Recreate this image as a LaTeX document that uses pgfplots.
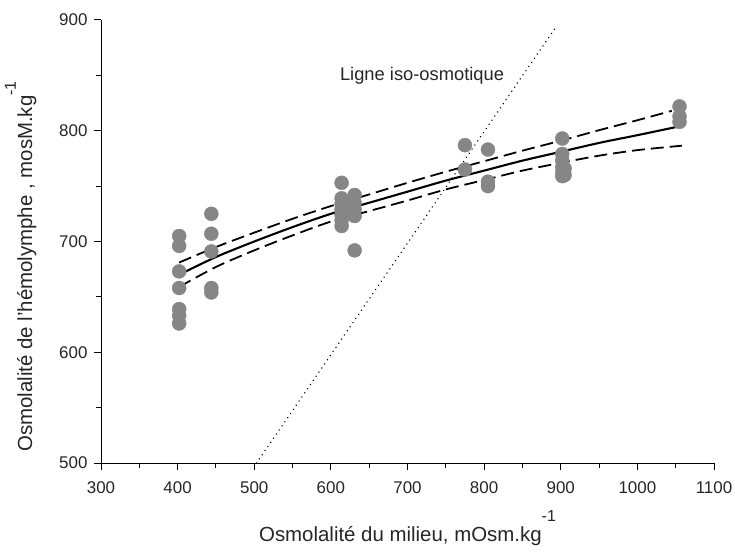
\documentclass[border=0pt]{standalone}
\usepackage{pgfplots}
\pgfplotsset{compat=1.18}
\usepackage{fontspec}
\setmainfont{Liberation Sans}
\begin{document}
\begin{tikzpicture}[x=1bp,y=1bp]
\useasboundingbox (-101bp,-89bp) rectangle (634bp,463bp);
\begin{axis}[
  at={(0,0)}, anchor=south west,
  scale only axis, width=613bp, height=443bp,
  xmin=300, xmax=1100, ymin=500, ymax=900,
  axis x line*=bottom, axis y line*=left,
  axis line style={line width=1pt},
  tick align=outside,
  xtick={300,400,...,1100}, ytick={500,600,...,900},
  minor xtick={350,450,...,1050}, minor ytick={550,650,750,850},
  major tick length=7bp, minor tick length=5bp,
  tick style={line width=1pt, black},
  /pgf/number format/assume math mode=true,
  /pgf/number format/1000 sep={},
  ticklabel style={font=\fontsize{17}{19}\selectfont, text=black!85},
  xticklabel style={yshift=-8bp},
  yticklabel style={xshift=-3bp},
  xlabel={Osmolalité du milieu, mOsm.kg\raisebox{1em}{\fontsize{16}{18}\selectfont -1}},
  ylabel={Osmolalité de l'hémolymphe , mosM.kg\raisebox{0.8em}{\fontsize{16}{18}\selectfont -1}},
  label style={font=\fontsize{20.5}{23}\selectfont, text=black!85},
  xlabel style={at={(axis description cs:0.5,0)}, anchor=north, yshift=-44bp},
  ylabel style={at={(axis description cs:0,0.5)}, anchor=south, xshift=-25bp, yshift=61bp},
  clip=true,
]
% data points
\addplot[only marks, mark=*, mark size=7bp, color=gray!95, mark options={fill=gray!95, draw=gray!95}] coordinates {
 (402,705) (402,696) (402,673) (402,658) (402,639) (402,633) (402,626)
 (444,725) (444,707) (444,691) (444,658) (444,654)
 (614,753) (614,739) (614,734) (614,729) (614,724) (614,719) (614,714)
 (631,742) (631,735) (631,729) (631,723) (631,692)
 (775,787) (775,765)
 (805,783) (805,754) (805,750)
 (902,793) (902,779) (902,773) (902,767) (902,762) (902,759) (905,760) (905,766)
 (1055,822) (1055,813) (1055,808)
};
% iso-osmotic line
\addplot[black, line width=1.6pt, dash pattern=on 0.01pt off 5bp, line cap=round] coordinates {(503,500) (895,895)};
% fit
\addplot[black, line width=2.1pt, smooth] coordinates {
 (402,670) (450,686) (500,700) (550,713) (600,725) (650,735) (700,745) (750,755) (800,764) (850,773) (900,781) (950,789) (1000,796) (1055,804)
};
% upper band
\addplot[black, line width=1.8pt, smooth, dash pattern=on 13bp off 6bp] coordinates {
 (402,681) (450,695) (500,708) (550,720.5) (600,732) (650,742.5) (700,753) (750,763) (800,772.5) (850,782) (900,791) (950,800.5) (1000,809.5) (1045,818)
};
% lower band
\addplot[black, line width=1.8pt, smooth, dash pattern=on 13bp off 6bp] coordinates {
 (402,659) (450,677) (500,692) (550,705.5) (600,718) (650,727.5) (700,737) (750,747) (800,755.5) (850,764) (900,771) (950,777.5) (1000,782.5) (1058,786.5)
};
\node[font=\fontsize{18.4}{21}\selectfont, text=black!85] at (axis cs:719,850) {Ligne iso-osmotique};
\end{axis}
\end{tikzpicture}
\end{document}
